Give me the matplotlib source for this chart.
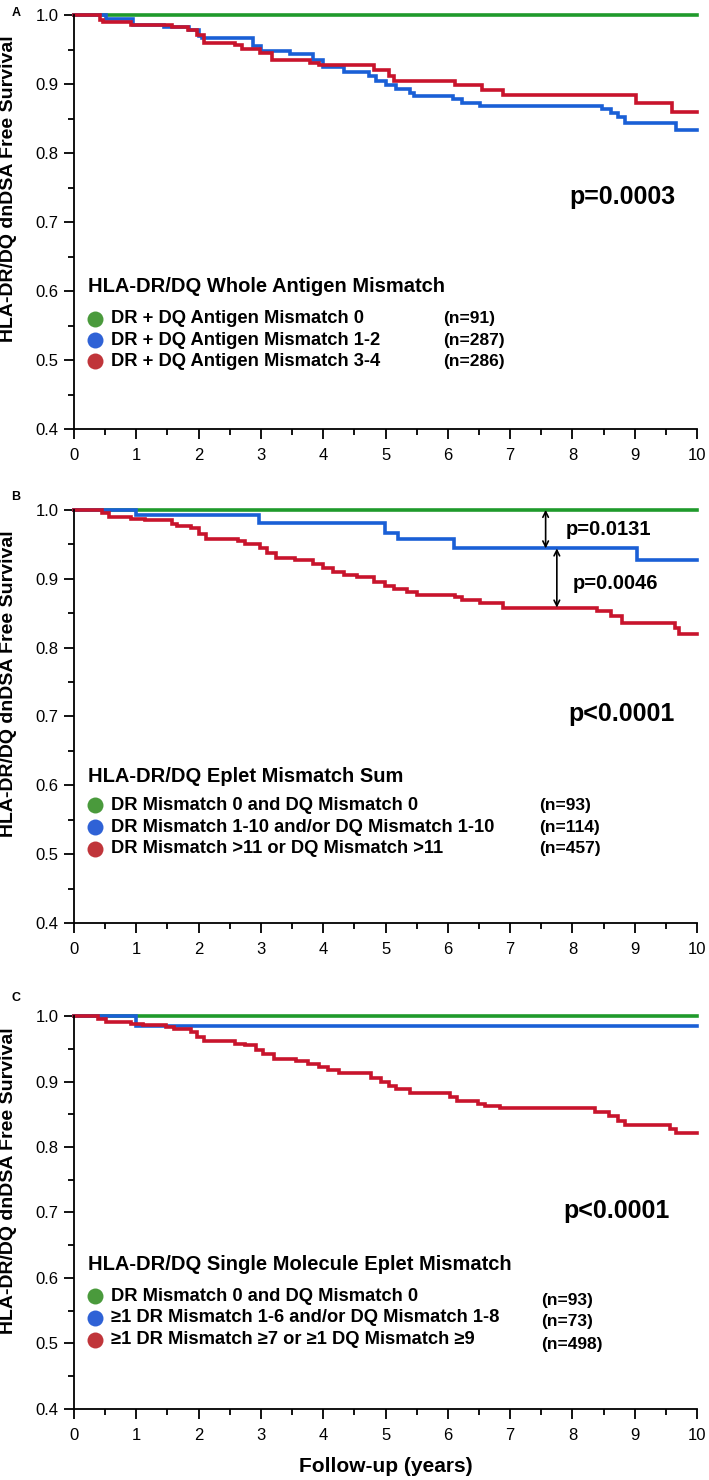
import matplotlib
matplotlib.use('Agg')
import matplotlib.pyplot as plt
from matplotlib.ticker import MultipleLocator

plt.rcParams['font.family'] = ['Liberation Sans', 'DejaVu Sans']

green = '#1f9a2b'
blue = '#1a5fd6'
red = '#c8142c'
dot_colors = ['#4a9a3c', '#2f62d6', '#c0353a']

# panel A - whole antigen mismatch
a_green_t = [0, 10]
a_green_s = [1.0, 1.0]
a_blue_t = [0, 0.52, 0.95, 1.45, 1.85, 2.0, 2.05, 2.88, 3.0, 3.46, 3.83, 4.0, 4.33, 4.73, 4.84,
            5.0, 5.17, 5.39, 5.46, 6.08, 6.22, 6.51, 8.47, 8.62, 8.73, 8.84, 9.67, 10]
a_blue_s = [1.0, 0.995, 0.986, 0.983, 0.978, 0.970, 0.967, 0.955, 0.948, 0.943, 0.935, 0.925, 0.918,
            0.911, 0.905, 0.898, 0.893, 0.887, 0.883, 0.879, 0.873, 0.868, 0.864, 0.858, 0.853, 0.843,
            0.833, 0.833]
a_red_t = [0, 0.41, 0.47, 0.92, 1.58, 1.83, 1.97, 2.08, 2.59, 2.7, 2.99, 3.17, 3.79, 3.94, 4.81,
           5.06, 5.13, 6.11, 6.55, 6.88, 9.02, 9.6, 10]
a_red_s = [1.0, 0.993, 0.99, 0.986, 0.983, 0.978, 0.971, 0.96, 0.957, 0.951, 0.945, 0.935, 0.93,
           0.928, 0.92, 0.912, 0.905, 0.898, 0.891, 0.884, 0.872, 0.859, 0.859]

# panel B - eplet mismatch sum
b_green_t = [0, 10]
b_green_s = [1.0, 1.0]
b_blue_t = [0, 1.0, 2.97, 4.99, 5.2, 6.1, 9.04, 10]
b_blue_s = [1.0, 0.993, 0.981, 0.967, 0.957, 0.944, 0.927, 0.927]
b_red_t = [0, 0.45, 0.56, 0.92, 1.14, 1.58, 1.65, 1.87, 2.0, 2.12, 2.63, 2.74, 2.99, 3.1, 3.25,
           3.54, 3.83, 4.0, 4.15, 4.34, 4.55, 4.81, 4.99, 5.13, 5.35, 5.5, 6.11, 6.22, 6.51, 6.88,
           8.4, 8.62, 8.8, 9.64, 9.71, 10]
b_red_s = [1.0, 0.995, 0.99, 0.987, 0.985, 0.98, 0.977, 0.974, 0.965, 0.958, 0.955, 0.951, 0.945,
           0.938, 0.93, 0.927, 0.921, 0.915, 0.91, 0.906, 0.903, 0.895, 0.89, 0.885, 0.881, 0.877,
           0.873, 0.869, 0.864, 0.858, 0.853, 0.846, 0.835, 0.828, 0.82, 0.82]

# panel C - single molecule eplet mismatch
c_green_t = [0, 10]
c_green_s = [1.0, 1.0]
c_blue_t = [0, 1.0, 10]
c_blue_s = [1.0, 0.985, 0.985]
c_red_t = [0, 0.38, 0.52, 0.92, 1.1, 1.47, 1.61, 1.87, 1.97, 2.08, 2.59, 2.74, 2.92, 3.03, 3.21,
           3.57, 3.75, 3.94, 4.08, 4.26, 4.77, 4.92, 5.06, 5.17, 5.39, 6.04, 6.15, 6.48, 6.59, 6.84,
           8.37, 8.58, 8.73, 8.84, 9.56, 9.67, 10]
c_red_s = [1.0, 0.995, 0.991, 0.988, 0.986, 0.983, 0.98, 0.976, 0.968, 0.962, 0.958, 0.955, 0.948,
           0.942, 0.935, 0.931, 0.927, 0.922, 0.917, 0.913, 0.905, 0.9, 0.893, 0.888, 0.882, 0.877,
           0.871, 0.866, 0.862, 0.859, 0.854, 0.848, 0.84, 0.834, 0.827, 0.821, 0.821]

titles = ['HLA-DR/DQ Whole Antigen Mismatch',
          'HLA-DR/DQ Eplet Mismatch Sum',
          'HLA-DR/DQ Single Molecule Eplet Mismatch']
labels = [['DR + DQ Antigen Mismatch 0', 'DR + DQ Antigen Mismatch 1-2', 'DR + DQ Antigen Mismatch 3-4'],
          ['DR Mismatch 0 and DQ Mismatch 0', 'DR Mismatch 1-10 and/or DQ Mismatch 1-10',
           'DR Mismatch >11 or DQ Mismatch >11'],
          ['DR Mismatch 0 and DQ Mismatch 0', '\u22651 DR Mismatch 1-6 and/or DQ Mismatch 1-8',
           '\u22651 DR Mismatch \u22657 or \u22651 DQ Mismatch \u22659']]
counts = [['(n=91)', '(n=287)', '(n=286)'],
          ['(n=93)', '(n=114)', '(n=457)'],
          ['(n=93)', '(n=73)', '(n=498)']]
pvals = ['p=0.0003', 'p<0.0001', 'p<0.0001']
panel_ids = ['A', 'B', 'C']

curves = [[(a_green_t, a_green_s), (a_blue_t, a_blue_s), (a_red_t, a_red_s)],
          [(b_green_t, b_green_s), (b_blue_t, b_blue_s), (b_red_t, b_red_s)],
          [(c_green_t, c_green_s), (c_blue_t, c_blue_s), (c_red_t, c_red_s)]]

fig = plt.figure(figsize=(7.09, 14.8), dpi=100)
rects = [[0.1044, 0.7101, 0.8787, 0.2797],
         [0.1044, 0.3764, 0.8787, 0.2791],
         [0.1044, 0.0480, 0.8787, 0.2655]]
panel_id_y = [13, 497, 998]  # pixel rows from top

# legend layout per panel: title y, item ys, n-column x
leg_title_y = [0.607, 0.613, 0.620]
leg_item_y = [[0.560, 0.529, 0.498], [0.571, 0.539, 0.508], [0.572, 0.539, 0.506]]
leg_n_y = [[0.560, 0.529, 0.498], [0.571, 0.539, 0.508], [0.565, 0.533, 0.499]]
leg_n_x = [5.93, 7.46, 7.49]
pval_y = [0.737, 0.703, 0.703]
pval_x = [9.66, 9.64, 9.56]

for i in range(3):
    ax = fig.add_axes(rects[i])
    for (t, s), c in zip(curves[i], [green, blue, red]):
        ax.step(t, s, where='post', color=c, lw=2.6, solid_joinstyle='miter', clip_on=False)
    ax.set_xlim(0, 10)
    ax.set_ylim(0.4, 1.0)
    ax.spines['top'].set_visible(False)
    ax.spines['right'].set_visible(False)
    ax.spines['left'].set_linewidth(1.3)
    ax.spines['bottom'].set_linewidth(1.3)
    ax.xaxis.set_major_locator(MultipleLocator(1))
    ax.xaxis.set_minor_locator(MultipleLocator(0.5))
    ax.yaxis.set_major_locator(MultipleLocator(0.1))
    ax.yaxis.set_minor_locator(MultipleLocator(0.05))
    ax.set_yticklabels(['%.1f' % v for v in ax.get_yticks()])
    ax.tick_params(which='major', length=7, width=1.3, labelsize=12, pad=4)
    ax.tick_params(which='minor', length=4, width=1.3)
    ax.tick_params(axis='x', which='major', pad=7)
    ax.set_ylabel('HLA-DR/DQ dnDSA Free Survival', fontsize=14, fontweight='bold')
    ax.yaxis.set_label_coords(-0.0915, 0.58)

    fig.text(16 / 709, 1 - panel_id_y[i] / 1480, panel_ids[i], fontsize=9, fontweight='bold',
             ha='center', va='center')

    ax.text(0.23, leg_title_y[i], titles[i], fontsize=14.5, fontweight='bold', va='center')
    for j in range(3):
        ax.plot(0.34, leg_item_y[i][j], 'o', ms=11.5, color=dot_colors[j], mec='none')
        ax.text(0.6, leg_item_y[i][j], labels[i][j], fontsize=13.2, fontweight='bold', va='center')
        ax.text(leg_n_x[i], leg_n_y[i][j], counts[i][j], fontsize=12.5, fontweight='bold', va='center')

    ax.text(pval_x[i], pval_y[i], pvals[i], fontsize=18, fontweight='bold', ha='right', va='center')

    if i == 1:
        ax.annotate('', xy=(7.57, 1.0), xytext=(7.57, 0.944),
                    arrowprops=dict(arrowstyle='<->', lw=1.2, color='black', shrinkA=0, shrinkB=0))
        ax.annotate('', xy=(7.75, 0.944), xytext=(7.75, 0.858),
                    arrowprops=dict(arrowstyle='<->', lw=1.2, color='black', shrinkA=0, shrinkB=0))
        ax.text(7.9, 0.972, 'p=0.0131', fontsize=14.5, fontweight='bold', va='center')
        ax.text(8.0, 0.893, 'p=0.0046', fontsize=14.5, fontweight='bold', va='center')

    if i == 2:
        ax.set_xlabel('Follow-up (years)', fontsize=15, fontweight='bold')
        ax.xaxis.set_label_coords(0.5, -0.122)

fig.savefig('out.png', dpi=100)
